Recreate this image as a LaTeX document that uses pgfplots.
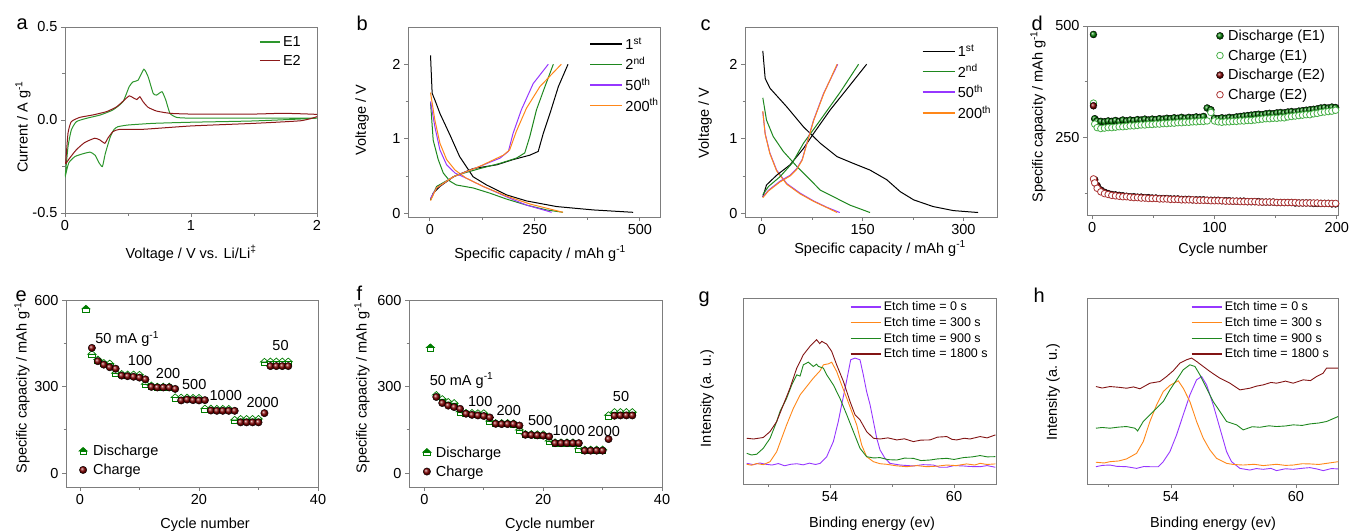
\documentclass[border=0pt]{standalone}
\usepackage{fontspec}
\setmainfont{Liberation Sans}
\usepackage{pgfplots}
\pgfplotsset{compat=1.18}

\definecolor{cvgreen}{RGB}{45,150,45}
\definecolor{cvred}{RGB}{140,25,25}
\definecolor{cpurple}{RGB}{150,55,255}
\definecolor{corange}{RGB}{255,135,25}
\definecolor{cgreen}{RGB}{30,135,30}
\definecolor{cbrown}{RGB}{130,20,20}
\definecolor{dgreen}{RGB}{0,125,0}
\definecolor{lgreen}{RGB}{70,175,70}
\definecolor{dred}{RGB}{130,0,0}
\definecolor{lred}{RGB}{170,50,50}
\definecolor{axgray}{RGB}{125,125,125}

\newcommand\fs{\fontsize{14.5}{17}\selectfont}
\newcommand\lfs{\fontsize{12.5}{15}\selectfont}
\newcommand\pfs{\fontsize{20}{24}\selectfont}

% green roof, white body
\pgfdeclareplotmark{house}{%
  \pgfpathmoveto{\pgfqpoint{0pt}{\pgfplotmarksize}}%
  \pgfpathlineto{\pgfqpoint{-\pgfplotmarksize}{0.1\pgfplotmarksize}}%
  \pgfpathlineto{\pgfqpoint{\pgfplotmarksize}{0.1\pgfplotmarksize}}%
  \pgfpathclose
  \pgfusepathqfillstroke
  {\pgfsetfillcolor{white}%
  \pgfpathmoveto{\pgfqpoint{-0.8\pgfplotmarksize}{0.1\pgfplotmarksize}}%
  \pgfpathlineto{\pgfqpoint{-0.8\pgfplotmarksize}{-0.8\pgfplotmarksize}}%
  \pgfpathlineto{\pgfqpoint{0.8\pgfplotmarksize}{-0.8\pgfplotmarksize}}%
  \pgfpathlineto{\pgfqpoint{0.8\pgfplotmarksize}{0.1\pgfplotmarksize}}%
  \pgfpathclose
  \pgfusepathqfillstroke}%
}

\pgfplotsset{
  panel/.style={
    scale only axis,
    axis line style={axgray, line width=0.9pt},
    every tick/.style={axgray, line width=0.8pt},
    tick align=outside, xtick pos=bottom, ytick pos=left,
    major tick length=4pt, minor tick length=2.5pt,
    tick label style={font=\fs, black},
    label style={font=\fs},
    /pgf/number format/assume math mode=true,
    legend cell align=left,
    legend style={draw=none, fill=none, font=\fs, inner sep=0pt, outer sep=0pt, anchor=north west},
  },
  lineleg/.style={legend image code/.code={\draw[##1, line width=1.5pt] (0pt,0pt) -- (#1,0pt);}},
  markleg/.style={legend image code/.code={\draw[##1] plot coordinates {(0pt,0pt)};}},
  xlab/.style 2 args={xlabel style={at={([yshift=-#2pt]axis description cs:#1,0)}, anchor=base}},
  ylab/.style 2 args={ylabel style={at={([xshift=-#2pt]axis description cs:0,#1)}, anchor=center}},
}

\begin{document}
\begin{tikzpicture}
\useasboundingbox (0pt,0pt) rectangle (1349pt,-530pt);

% ---------------- a: CV
\begin{axis}[panel, at={(65pt,-213pt)}, anchor=south west, width=252pt, height=186pt,
  xmin=0, xmax=2, ymin=-0.5, ymax=0.5,
  xtick={0,1,2}, minor xtick={0.5,1.5},
  ytick={-0.5,0,0.5}, yticklabels={-0.5,0.0,0.5}, minor ytick={-0.25,0.25},
  xlabel={Voltage / V vs. Li/Li\textsuperscript{‡}}, ylabel={Current / A g\textsuperscript{-1}},
  xlab={0.5}{45}, ylab={0.462}{42},
  lineleg=20pt,
  legend style={at={(0.77,0.96)}, row sep=3pt, column sep=0.5pt},
]
\addplot[cvgreen, line width=1pt, smooth, tension=0.3] coordinates {
(0.005,-0.28)(0.024,-0.143)(0.05,-0.054)(0.09,-0.009)(0.17,0.009)(0.28,0.027)(0.38,0.054)
(0.46,0.098)(0.51,0.18)(0.54,0.205)(0.58,0.214)(0.626,0.273)(0.66,0.232)(0.70,0.143)
(0.727,0.134)(0.77,0.152)(0.80,0.107)(0.833,0.036)(0.886,0.014)(1.0,0.01)(1.5,0.01)(2.0,0.01)
(1.5,-0.005)(1.0,-0.012)(0.7,-0.018)(0.5,-0.027)(0.42,-0.036)(0.39,-0.05)(0.36,-0.09)
(0.32,-0.18)(0.297,-0.25)(0.27,-0.23)(0.24,-0.19)(0.20,-0.173)(0.15,-0.18)(0.08,-0.196)
(0.03,-0.23)(0.003,-0.30)(0.005,-0.28)};
\addlegendentry{E1}
\addplot[cvred, line width=1pt, smooth, tension=0.3] coordinates {
(0.005,-0.236)(0.024,-0.07)(0.05,-0.009)(0.117,0.014)(0.22,0.027)(0.33,0.045)(0.41,0.071)
(0.475,0.11)(0.51,0.13)(0.54,0.12)(0.57,0.11)(0.594,0.125)(0.62,0.098)(0.66,0.068)(0.727,0.048)
(0.833,0.036)(1.0,0.032)(1.5,0.032)(1.73,0.036)(2.0,0.03)(2.0,0.018)(1.87,-0.004)(1.5,-0.018)
(1.0,-0.032)(0.62,-0.05)(0.435,-0.05)(0.38,-0.0625)(0.34,-0.098)(0.316,-0.125)(0.276,-0.107)
(0.236,-0.098)(0.156,-0.121)(0.09,-0.16)(0.037,-0.205)(0.005,-0.236)};
\addlegendentry{E2}
\end{axis}

% ---------------- b: E1 profiles
\begin{axis}[panel, at={(408pt,-217pt)}, anchor=south west, width=252pt, height=190pt,
  xmin=-52, xmax=548, ymin=-0.05, ymax=2.5,
  xtick={0,250,500}, minor xtick={125,375}, ytick={0,1,2}, minor ytick={0.5,1.5},
  xlabel={Specific capacity / mAh g\textsuperscript{-1}}, ylabel={Voltage / V},
  xlab={0.524}{41}, ylab={0.51}{46},
  lineleg=32pt,
  legend style={at={(0.72,0.955)}, row sep=2.5pt, column sep=0.5pt},
]
\addplot[black, line width=1pt] coordinates {(1.6,2.12)(5.5,1.61)(12,1.52)(24,1.34)(48,1.05)(71,0.76)(103,0.49)(135,0.38)(183,0.246)(230,0.166)(302,0.09)(389,0.045)(484,0.013)};
\addlegendentry{1\textsuperscript{st}}
\addplot[cgreen, line width=1pt] coordinates {(1.6,1.49)(8,0.98)(20,0.72)(32,0.54)(48,0.43)(63,0.38)(103,0.34)(143,0.27)(183,0.19)(230,0.11)(278,0.045)(317,0.013)};
\addlegendentry{2\textsuperscript{nd}}
\addplot[cpurple, line width=1pt] coordinates {(1.6,1.5)(12,1.16)(24,0.85)(40,0.65)(60,0.54)(87,0.47)(127,0.36)(183,0.22)(230,0.11)(290,0.013)};
\addlegendentry{50\textsuperscript{th}}
\addplot[corange, line width=1pt] coordinates {(1.6,1.62)(12,1.25)(24,0.94)(40,0.72)(60,0.58)(87,0.47)(127,0.36)(183,0.23)(238,0.125)(317,0.013)};
\addlegendentry{200\textsuperscript{th}}
\addplot[black, line width=1pt, forget plot] coordinates {(1.6,0.18)(8,0.27)(24,0.36)(56,0.49)(103,0.60)(159,0.65)(198,0.72)(238,0.78)(258,0.83)(270,1.07)(286,1.34)(306,1.70)(329,2.0)};
\addplot[cgreen, line width=1pt, forget plot] coordinates {(1.6,0.18)(16,0.36)(63,0.51)(119,0.60)(167,0.67)(206,0.74)(226,0.81)(238,1.03)(254,1.39)(274,1.70)(294,2.0)};
\addplot[cpurple, line width=1pt, forget plot] coordinates {(1.6,0.2)(16,0.34)(56,0.49)(119,0.63)(167,0.74)(187,0.83)(198,1.07)(218,1.39)(246,1.74)(282,2.0)};
\addplot[corange, line width=1pt, forget plot] coordinates {(1.6,0.17)(16,0.34)(56,0.49)(119,0.63)(175,0.78)(190,0.85)(206,1.10)(230,1.41)(262,1.70)(313,2.0)};
\end{axis}

% ---------------- c: E2 profiles
\begin{axis}[panel, at={(745pt,-217pt)}, anchor=south west, width=252pt, height=190pt,
  xmin=-25, xmax=350, ymin=-0.05, ymax=2.5,
  xtick={0,150,300}, minor xtick={75,225}, ytick={0,1,2}, minor ytick={0.5,1.5},
  xlabel={Specific capacity / mAh g\textsuperscript{-1}}, ylabel={Voltage / V},
  xlab={0.536}{36}, ylab={0.495}{40},
  lineleg=32pt,
  legend style={at={(0.702,0.917)}, row sep=2.5pt, column sep=0.5pt},
]
\addplot[black, line width=1pt] coordinates {(1.5,2.18)(5,1.81)(12,1.68)(37,1.43)(62,1.16)(87,0.94)(112,0.76)(136,0.67)(161,0.58)(186,0.45)(206,0.29)(226,0.18)(255,0.09)(285,0.036)(322,0.01)};
\addlegendentry{1\textsuperscript{st}}
\addplot[cgreen, line width=1pt] coordinates {(1.5,1.55)(7,1.25)(17,1.03)(32,0.83)(52,0.63)(72,0.45)(87,0.31)(107,0.22)(131,0.11)(161,0.01)};
\addlegendentry{2\textsuperscript{nd}}
\addplot[cpurple, line width=1pt] coordinates {(1.5,1.36)(5,1.07)(12,0.81)(22,0.58)(37,0.40)(57,0.27)(77,0.166)(97,0.08)(116,0.01)};
\addlegendentry{50\textsuperscript{th}}
\addplot[corange, line width=1pt] coordinates {(1.5,1.37)(5,1.06)(12,0.80)(22,0.57)(37,0.39)(57,0.26)(77,0.16)(97,0.075)(112,0.01)};
\addlegendentry{200\textsuperscript{th}}
\addplot[black, line width=1pt, forget plot] coordinates {(1.5,0.22)(7,0.38)(22,0.51)(42,0.65)(62,0.87)(77,1.07)(102,1.39)(126,1.66)(156,2.0)};
\addplot[cgreen, line width=1pt, forget plot] coordinates {(1.5,0.25)(10,0.36)(27,0.49)(45,0.67)(62,0.94)(87,1.25)(117,1.63)(144,2.0)};
\addplot[cpurple, line width=1pt, forget plot] coordinates {(1.5,0.22)(10,0.31)(27,0.43)(42,0.51)(52,0.60)(60,0.72)(67,0.94)(77,1.25)(92,1.61)(113,2.0)};
\addplot[corange, line width=1pt, forget plot] coordinates {(1.5,0.21)(10,0.30)(27,0.42)(42,0.50)(52,0.59)(60,0.71)(67,0.93)(77,1.24)(92,1.60)(112,2.0)};
\end{axis}

% ---------------- d: cycling
\begin{axis}[panel, at={(1087pt,-215pt)}, anchor=south west, width=251pt, height=189pt,
  xmin=-4.3, xmax=201, ymin=76, ymax=500,
  xtick={0,100,200}, minor xtick={50,150}, ytick={250,500}, minor ytick={125,375},
  xlabel={Cycle number}, ylabel={Specific capacity / mAh g\textsuperscript{-1}},
  xlab={0.542}{38}, ylab={0.52}{49},
  markleg,
  legend style={at={(0.515,0.99)}, row sep=3.6pt, column sep=2.5pt},
]
\addplot[only marks, mark=ball, mark size=3.5pt, mark options={ball color=dgreen}] coordinates {
(1,481)(2,292)(4,287)(7,286)(10,285)(13,287)(16,286)(19,288)(22,286)(25,289)(28,287)(31,289)
(34,288)(37,290)(40,289)(43,291)(46,289)(49,291)(52,290)(55,292)(58,291)(61,293)(64,292)(67,294)
(70,293)(73,295)(76,293)(79,295)(82,294)(85,296)(88,295)(91,297)(94,316)(97,312)(100,293)(103,292)
(106,294)(109,293)(112,295)(115,294)(118,296)(121,297)(124,298)(127,299)(130,300)(133,301)(136,302)
(139,301)(142,303)(145,304)(148,303)(151,305)(154,306)(157,305)(160,307)(163,308)(166,307)(169,309)
(172,310)(175,311)(178,312)(181,313)(184,314)(187,316)(190,317)(193,316)(196,318)(199,317)};
\addlegendentry{Discharge (E1)}
\addplot[only marks, mark=*, mark size=3.3pt, mark options={draw=lgreen, fill=white, line width=0.8pt}] coordinates {
(1,327)(2,280)(4,272)(7,270)(10,271)(13,272)(16,272)(19,273)(22,274)(25,274)(28,275)(31,276)
(34,276)(37,277)(40,278)(43,278)(46,279)(49,279)(52,280)(55,280)(58,281)(61,281)(64,282)(67,282)
(70,283)(73,283)(76,284)(79,284)(82,285)(85,285)(88,286)(91,286)(94,287)(97,306)(100,287)(103,285)
(106,284)(109,285)(112,285)(115,286)(118,286)(121,287)(124,287)(127,288)(130,288)(133,289)(136,290)
(139,291)(142,292)(145,292)(148,293)(151,293)(154,294)(157,294)(160,296)(163,297)(166,298)(169,299)
(172,300)(175,301)(178,301)(181,303)(184,304)(187,306)(190,307)(193,308)(196,309)(199,311)};
\addlegendentry{Charge (E1)}
\addplot[only marks, mark=ball, mark size=3.5pt, mark options={ball color=dred}] coordinates {
(1,321)(2,155)(4,142)(7,132)(10,127)(13,124)(16,122)(19,121)(22,120)(25,119)(28,118)(31,117)
(34,117)(37,116)(40,116)(43,115)(46,115)(49,114)(52,114)(55,113)(58,113)(61,113)(64,112)(67,112)
(70,112)(73,111)(76,111)(79,111)(82,110)(85,110)(88,110)(91,110)(94,109)(97,109)(100,109)(103,109)
(106,108)(109,108)(112,108)(115,107)(118,107)(121,107)(124,107)(127,106)(130,106)(133,106)(136,106)
(139,105)(142,105)(145,105)(148,105)(151,104)(154,104)(157,104)(160,104)(163,104)(166,103)(169,103)
(172,103)(175,103)(178,103)(181,102)(184,102)(187,102)(190,102)(193,102)(196,101)(199,101)};
\addlegendentry{Discharge (E2)}
\addplot[only marks, mark=*, mark size=3.3pt, mark options={draw=lred, fill=white, line width=0.8pt}] coordinates {
(1,157)(2,148)(4,136)(7,128)(10,124)(13,122)(16,120)(19,119)(22,118)(25,117)(28,117)(31,116)
(34,115)(37,115)(40,114)(43,114)(46,113)(49,113)(52,113)(55,112)(58,112)(61,112)(64,111)(67,111)
(70,111)(73,110)(76,110)(79,110)(82,110)(85,109)(88,109)(91,109)(94,109)(97,108)(100,108)(103,108)
(106,108)(109,107)(112,107)(115,107)(118,107)(121,106)(124,106)(127,106)(130,106)(133,106)(136,105)
(139,105)(142,105)(145,105)(148,105)(151,104)(154,104)(157,104)(160,104)(163,104)(166,104)(169,103)
(172,103)(175,103)(178,103)(181,103)(184,103)(187,102)(190,102)(193,102)(196,102)(199,102)};
\addlegendentry{Charge (E2)}
\end{axis}

% ---------------- e: rate E1
\begin{axis}[panel, at={(66pt,-487pt)}, anchor=south west, width=252pt, height=187pt,
  xmin=-2.35, xmax=40, ymin=-48, ymax=600,
  xtick={0,20,40}, minor xtick={10,30}, ytick={0,300,600}, minor ytick={150,450},
  xlabel={Cycle number}, ylabel={Specific capacity / mAh g\textsuperscript{-1}},
  xlab={0.552}{41}, ylab={0.53}{44},
  markleg,
  legend style={at={(0.052,0.233)}, row sep=2.5pt, column sep=4pt},
]
\addplot[only marks, mark=house, mark size=4pt, mark options={draw=dgreen, fill=dgreen, line width=0.7pt}] coordinates {
(1,568)(2,411)(3,392)(4,380)(5,378)(6,345)(7,342)(8,340)(9,340)(10,339)(11,307)(12,302)(13,298)(14,298)(15,298)
(16,261)(17,260)(18,260)(19,259)(20,259)(21,222)(22,222)(23,221)(24,221)(25,221)(26,183)(27,186)(28,186)(29,186)(30,186)
(31,384)(32,385)(33,385)(34,385)(35,385)};
\addlegendentry{Discharge}
\addplot[only marks, mark=ball, mark size=3.7pt, mark options={ball color=dred}] coordinates {
(2,434)(3,388)(4,376)(5,367)(6,362)(7,338)(8,336)(9,334)(10,331)(11,325)(12,299)(13,297)(14,297)(15,297)
(16,292)(17,252)(18,255)(19,253)(20,252)(21,253)(22,217)(23,216)(24,216)(25,216)(26,216)(27,176)(28,176)(29,176)(30,176)
(31,208)(32,371)(33,371)(34,371)(35,371)};
\addlegendentry{Charge}
\node[font=\fs, anchor=west] at (axis cs:2.0,464) {50 mA g\textsuperscript{-1}};
\node[font=\fs] at (axis cs:10.1,389) {100};
\node[font=\fs] at (axis cs:14.8,346) {200};
\node[font=\fs] at (axis cs:19.2,307) {500};
\node[font=\fs] at (axis cs:24.5,269) {1000};
\node[font=\fs] at (axis cs:30.7,244) {2000};
\node[font=\fs] at (axis cs:33.7,443) {50};
\end{axis}

% ---------------- f: rate E2
\begin{axis}[panel, at={(409pt,-487pt)}, anchor=south west, width=253pt, height=187pt,
  xmin=-2.6, xmax=40, ymin=-48, ymax=600,
  xtick={0,20,40}, minor xtick={10,30}, ytick={0,300,600}, minor ytick={150,450},
  xlabel={Cycle number}, ylabel={Specific capacity / mAh g\textsuperscript{-1}},
  xlab={0.557}{41}, ylab={0.53}{47},
  markleg,
  legend style={at={(0.055,0.227)}, row sep=3pt, column sep=3pt},
]
\addplot[only marks, mark=house, mark size=4pt, mark options={draw=dgreen, fill=dgreen, line width=0.7pt}] coordinates {
(1,434)(2,269)(3,255)(4,245)(5,241)(6,211)(7,207)(8,207)(9,206)(10,206)(11,179)(12,172)(13,172)(14,172)(15,171)
(16,148)(17,134)(18,134)(19,133)(20,133)(21,110)(22,105)(23,105)(24,105)(25,105)(26,83)(27,80)(28,80)(29,80)(30,80)
(31,199)(32,210)(33,210)(34,210)(35,210)};
\addlegendentry{Discharge}
\addplot[only marks, mark=ball, mark size=3.7pt, mark options={ball color=dred}] coordinates {
(2,264)(3,243)(4,234)(5,229)(6,223)(7,206)(8,202)(9,200)(10,198)(11,193)(12,171)(13,170)(14,170)(15,170)
(16,165)(17,133)(18,132)(19,131)(20,130)(21,127)(22,104)(23,104)(24,104)(25,104)(26,104)(27,78)(28,78)(29,78)(30,78)
(31,118)(32,199)(33,200)(34,200)(35,200)};
\addlegendentry{Charge}
\node[font=\fs, anchor=west] at (axis cs:0.3,321) {50 mA g\textsuperscript{-1}};
\node[font=\fs] at (axis cs:9.4,249) {100};
\node[font=\fs] at (axis cs:14.2,218) {200};
\node[font=\fs] at (axis cs:19.5,183) {500};
\node[font=\fs] at (axis cs:24.3,149) {1000};
\node[font=\fs] at (axis cs:30.2,145) {2000};
\node[font=\fs] at (axis cs:33.1,265) {50};
\end{axis}

% ---------------- g: XPS E1
\begin{axis}[panel, at={(743pt,-484pt)}, anchor=south west, width=253pt, height=186pt,
  xmin=49.79, xmax=62.03, ymin=0, ymax=100,
  xtick={54,60}, minor xtick={51,57}, ytick=\empty,
  xlabel={Binding energy (ev)}, ylabel={Intensity (a. u.)},
  xlab={0.51}{43}, ylab={0.46}{36},
  lineleg=30pt,
  legend style={at={(0.422,0.99)}, font=\lfs, row sep=1pt, column sep=0.5pt},
]
\addplot[cpurple, line width=0.9pt] coordinates {(49.97,11.1)(50.3,10.4)(50.6,11.3)(50.9,10.6)(51.2,10.2)(51.5,11.0)(51.8,9.8)(52.1,10.6)(52.4,10.9)(52.7,10.3)(53.0,11.2)(53.3,10.5)(53.52,11.1)(53.84,14.7)(54.16,22.8)(54.40,33.6)(54.56,42.5)(54.73,51.5)(54.89,60.5)(55.0,66.8)(55.21,67.7)(55.45,66.8)(55.61,58.7)(55.77,49.7)(55.94,42.5)(56.10,33.6)(56.26,24.6)(56.42,18.3)(56.66,13.8)(56.90,11.1)(57.39,10.2)(58.03,9.7)(58.5,10.4)(59.0,10.2)(59.3,9.0)(59.65,9.0)(60.0,9.9)(60.45,9.7)(60.8,9.4)(61.26,9.3)(61.6,9.9)(62.0,9.0)};
\addlegendentry{Etch time = 0 s}
\addplot[corange, line width=0.9pt] coordinates {(49.97,10.6)(50.2,10.1)(50.45,11.0)(50.77,10.4)(51.10,12.0)(51.42,17.4)(51.66,24.6)(51.90,31.8)(52.23,40.8)(52.55,47.9)(52.87,52.4)(53.19,56.9)(53.52,60.9)(53.68,64.1)(53.92,64.6)(54.08,65.5)(54.32,60.5)(54.56,53.3)(54.81,46.1)(55.05,39.0)(55.29,31.8)(55.53,21.0)(55.77,14.7)(56.10,12.0)(56.42,10.9)(56.74,10.6)(57.2,9.8)(57.71,9.3)(58.2,9.9)(58.68,9.3)(59.2,9.6)(59.65,10.2)(60.1,9.9)(60.61,10.8)(61.0,10.2)(61.26,11.1)(61.6,10.5)(62.0,10.8)};
\addlegendentry{Etch time = 300 s}
\addplot[cgreen, line width=0.9pt] coordinates {(49.97,16.5)(50.2,15.6)(50.45,16.0)(50.77,19.2)(51.10,24.6)(51.42,33.6)(51.58,39.0)(51.90,46.1)(52.15,53.3)(52.39,58.7)(52.55,58.0)(52.71,64.1)(52.95,65.5)(53.19,63.2)(53.35,64.4)(53.44,63.2)(53.68,62.3)(53.84,58.7)(54.16,53.3)(54.48,46.1)(54.81,37.2)(55.13,28.2)(55.45,19.2)(55.77,14.7)(56.1,14.0)(56.42,14.2)(56.8,13.1)(57.23,12.9)(57.6,13.9)(58.03,13.8)(58.4,12.6)(58.84,12.9)(59.2,13.5)(59.65,13.8)(60.0,13.2)(60.45,14.2)(60.9,14.6)(61.26,15.3)(61.6,14.6)(62.0,14.7)};
\addlegendentry{Etch time = 900 s}
\addplot[cbrown, line width=0.9pt] coordinates {(49.97,24.6)(50.3,24.2)(50.77,25.0)(51.10,28.2)(51.42,33.6)(51.74,42.5)(52.06,51.5)(52.39,62.3)(52.71,69.5)(53.03,74.0)(53.2,76.0)(53.35,77.6)(53.5,75.5)(53.60,76.7)(53.84,75.2)(54.08,71.3)(54.32,64.1)(54.65,55.1)(54.97,44.3)(55.21,37.2)(55.45,34.5)(55.77,28.2)(56.10,24.6)(56.42,24.2)(56.8,24.8)(57.23,23.7)(57.6,24.3)(58.03,22.8)(58.4,23.6)(58.84,23.7)(59.2,25.2)(59.65,25.5)(59.9,24.0)(60.13,23.7)(60.5,24.6)(60.77,24.2)(61.26,25.5)(61.6,24.8)(62.0,26.4)};
\addlegendentry{Etch time = 1800 s}
\end{axis}

% ---------------- h: XPS E2
\begin{axis}[panel, at={(1087pt,-484pt)}, anchor=south west, width=251pt, height=186pt,
  xmin=49.97, xmax=62.02, ymin=0, ymax=100,
  xtick={54,60}, minor xtick={51,57}, ytick=\empty,
  xlabel={Binding energy (ev)}, ylabel={Intensity (a. u.)},
  xlab={0.502}{43}, ylab={0.495}{34},
  lineleg=30pt,
  legend style={at={(0.414,0.99)}, font=\lfs, row sep=1pt, column sep=0.5pt},
]
\addplot[cpurple, line width=0.9pt] coordinates {(50.4,9.3)(50.7,10.0)(51.07,10.2)(51.4,9.5)(51.87,9.3)(52.35,8.4)(52.7,9.4)(52.99,9.3)(53.39,9.3)(53.63,12.0)(53.95,17.4)(54.27,26.4)(54.59,37.2)(54.91,47.9)(55.23,56.0)(55.47,57.8)(55.71,53.3)(56.03,42.5)(56.35,30.0)(56.67,17.4)(56.91,12.0)(57.31,8.4)(57.79,7.5)(58.1,8.3)(58.43,7.9)(58.8,8.4)(59.07,7.2)(59.5,8.2)(59.87,7.9)(60.35,8.5)(60.67,8.8)(61.0,8.1)(61.31,7.2)(61.7,8.3)(62.03,8.1)};
\addlegendentry{Etch time = 0 s}
\addplot[corange, line width=0.9pt] coordinates {(50.4,11.7)(50.8,11.3)(51.07,12.0)(51.5,12.4)(51.87,13.5)(52.35,16.5)(52.67,22.8)(52.99,33.6)(53.31,42.5)(53.63,49.7)(53.95,53.0)(54.35,55.5)(54.59,51.5)(54.91,44.3)(55.23,33.6)(55.55,24.6)(55.87,18.3)(56.19,13.8)(56.67,11.1)(57.0,10.5)(57.47,10.2)(58.0,10.6)(58.43,9.9)(59.07,10.6)(59.5,10.0)(59.87,10.2)(60.3,10.9)(60.67,10.8)(61.1,10.5)(61.47,11.1)(62.03,12.0)};
\addlegendentry{Etch time = 300 s}
\addplot[cgreen, line width=0.9pt] coordinates {(50.4,30.0)(50.7,30.4)(51.07,30.0)(51.5,30.6)(51.87,30.9)(52.27,30.0)(52.4,28.5)(52.67,33.6)(53.15,39.0)(53.63,44.3)(53.95,50.6)(54.27,56.0)(54.59,61.4)(54.91,64.1)(55.15,63.2)(55.39,58.7)(55.71,51.5)(56.03,44.3)(56.35,39.0)(56.67,33.6)(57.15,31.8)(57.47,29.1)(57.9,30.8)(58.27,30.5)(58.7,31.3)(59.07,30.9)(59.5,31.2)(59.87,31.8)(60.3,31.5)(60.67,32.3)(61.1,32.8)(61.47,33.6)(62.03,36.3)};
\addlegendentry{Etch time = 900 s}
\addplot[cbrown, line width=0.9pt] coordinates {(50.4,52.4)(50.7,51.6)(51.07,52.4)(51.5,52.0)(51.87,51.5)(52.2,52.2)(52.51,51.2)(52.99,54.2)(53.47,55.1)(53.79,57.8)(54.11,60.9)(54.43,65.0)(54.75,66.8)(54.99,67.7)(55.23,65.9)(55.55,63.2)(55.87,60.5)(56.35,56.9)(56.83,54.2)(57.31,50.6)(57.79,51.5)(58.1,52.6)(58.43,53.3)(58.8,54.6)(59.07,54.2)(59.5,55.3)(59.87,54.2)(60.35,56.0)(60.7,55.6)(60.99,57.8)(61.3,59.5)(61.47,62.3)(62.03,62.3)};
\addlegendentry{Etch time = 1800 s}
\end{axis}

% panel letters
\node[font=\pfs, anchor=base west] at (13pt,-29pt) {a};
\node[font=\pfs, anchor=base west] at (353pt,-30pt) {b};
\node[font=\pfs, anchor=base west] at (697pt,-30pt) {c};
\node[font=\pfs, anchor=base west] at (1028pt,-30pt) {d};
\node[font=\pfs, anchor=base west] at (12pt,-301pt) {e};
\node[font=\pfs, anchor=base west] at (353pt,-300pt) {f};
\node[font=\pfs, anchor=base west] at (695pt,-302pt) {g};
\node[font=\pfs, anchor=base west] at (1030pt,-302pt) {h};
\end{tikzpicture}
\end{document}
